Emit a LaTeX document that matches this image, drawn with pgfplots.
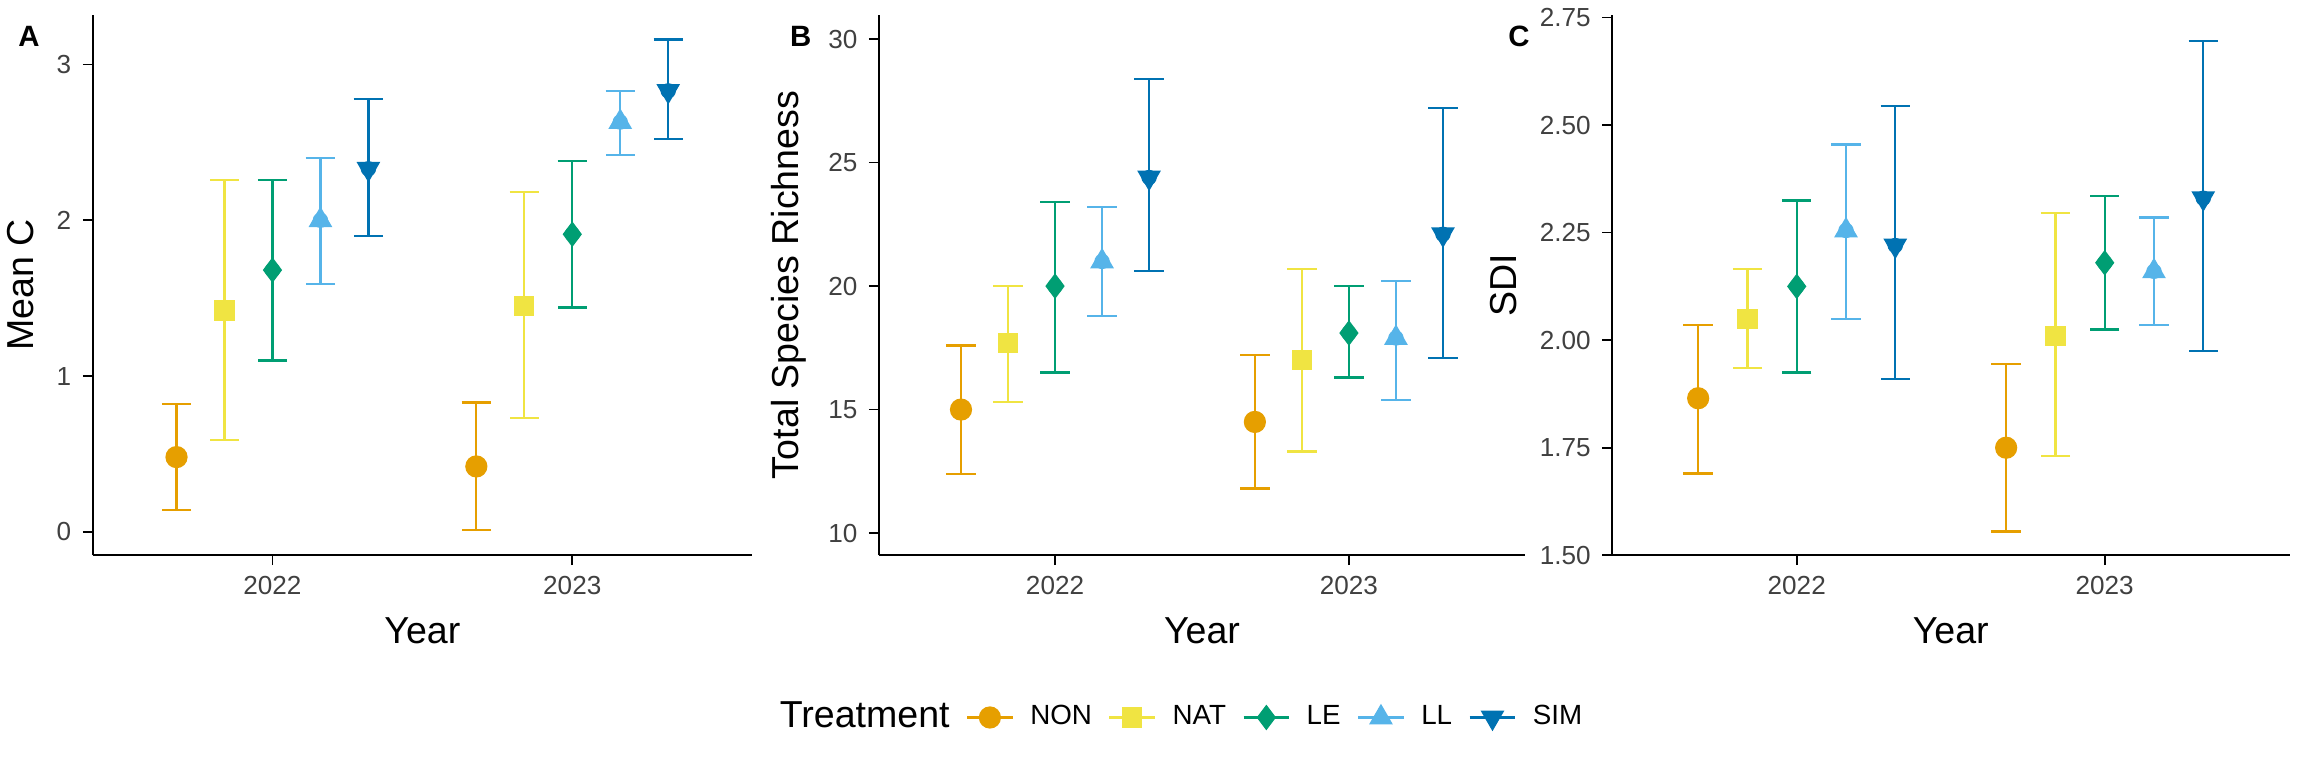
\documentclass[border=0pt]{standalone}
\usepackage{pgfplots}
\pgfplotsset{compat=1.18}
\usepackage{fontspec}
\setmainfont{Liberation Sans}
\definecolor{cNON}{HTML}{E69F00}
\definecolor{cNAT}{HTML}{F0E442}
\definecolor{cLE}{HTML}{009E73}
\definecolor{cLL}{HTML}{56B4E9}
\definecolor{cSIM}{HTML}{0072B2}
\pgfplotsset{
  myax/.style={scale only axis, height=165.6pt, axis lines*=left, axis line style={line width=0.6pt},
    xmin=0.4,xmax=2.6, xtick={1,2}, xticklabels={2022,2023},
    tick style={black,line width=0.5pt}, tickwidth=3pt, tick align=outside,
    ticklabel style={font=\fontsize{8}{9}\selectfont, text=black!75},
    /pgf/number format/assume math mode=true,
    label style={font=\fontsize{11.5}{13}\selectfont},
    xlabel={Year}, clip=false},
  eb/.style={color=#1, line width=0.7pt, forget plot, only marks, mark=none,
    error bars/.cd, y dir=both, y explicit, error bar style={line width=0.7pt,color=#1},
    error mark options={rotate=90, mark size=4.5pt, line width=0.7pt,color=#1}},
  pNON/.style={only marks, mark=*, mark size=3.2pt, color=cNON},
  pNAT/.style={only marks, mark=square*, mark size=2.9pt, color=cNAT},
  pLE/.style={only marks, mark=diamond*, mark size=3.6pt, color=cLE},
  pLL/.style={only marks, mark=triangle*, mark size=3.8pt, color=cLL},
  pSIM/.style={only marks, mark=triangle*, mark size=3.8pt, color=cSIM, mark options={rotate=180}},
}
\begin{document}
\begin{tikzpicture}[x=1pt,y=1pt]
\path[use as bounding box] (0,0) rectangle (705.6,235.35);
% Panel A
\begin{axis}[myax, at={(28.35pt,65.3pt)}, anchor=south west, width=202pt,
  ymin=-0.15, ymax=3.32, ytick={0,1,2,3}, ylabel={Mean C}]
\addplot[eb=cNON] coordinates {(0.68,0.48) += (0,0.34) -= (0,0.34) (1.68,0.42) += (0,0.41) -= (0,0.41)};
\addplot[eb=cNAT] coordinates {(0.84,1.42) += (0,0.84) -= (0,0.83) (1.84,1.45) += (0,0.73) -= (0,0.72)};
\addplot[eb=cLE] coordinates {(1.00,1.68) += (0,0.58) -= (0,0.58) (2.00,1.91) += (0,0.47) -= (0,0.47)};
\addplot[eb=cLL] coordinates {(1.16,2.00) += (0,0.40) -= (0,0.41) (2.16,2.63) += (0,0.20) -= (0,0.21)};
\addplot[eb=cSIM] coordinates {(1.32,2.33) += (0,0.45) -= (0,0.43) (2.32,2.83) += (0,0.33) -= (0,0.31)};
\addplot[pNON] coordinates {(0.68,0.48) (1.68,0.42)};
\addplot[pNAT] coordinates {(0.84,1.42) (1.84,1.45)};
\addplot[pLE] coordinates {(1.00,1.68) (2.00,1.91)};
\addplot[pLL] coordinates {(1.16,2.00) (2.16,2.63)};
\addplot[pSIM] coordinates {(1.32,2.33) (2.32,2.83)};
\node[font=\bfseries\fontsize{9}{10}\selectfont, anchor=north west] at (rel axis cs:-0.13,1.0) {A};
\end{axis}
% Panel B
\begin{axis}[myax, at={(269.1pt,65.3pt)}, anchor=south west, width=198pt,
  ymin=9.1, ymax=31.0, ytick={10,15,20,25,30}, ylabel={Total Species Richness},
  legend columns=6, legend style={at={(0.46,-0.30)}, anchor=center, draw=none,
    font=\fontsize{8.5}{10}\selectfont, column sep=3pt},
  legend image code/.code={\draw[line width=0.7pt,#1] (0pt,0pt) -- (14pt,0pt); \draw[#1] plot coordinates {(7pt,0pt)};}]
\addlegendimage{empty legend}\addlegendentry{\fontsize{11.5}{13}\selectfont Treatment}
\addplot[eb=cNON] coordinates {(0.68,15.0) += (0,2.6) -= (0,2.6) (1.68,14.5) += (0,2.7) -= (0,2.7)};
\addplot[eb=cNAT] coordinates {(0.84,17.7) += (0,2.3) -= (0,2.4) (1.84,17.0) += (0,3.7) -= (0,3.7)};
\addplot[eb=cLE] coordinates {(1.00,20.0) += (0,3.4) -= (0,3.5) (2.00,18.1) += (0,1.9) -= (0,1.8)};
\addplot[eb=cLL] coordinates {(1.16,21.0) += (0,2.2) -= (0,2.2) (2.16,17.9) += (0,2.3) -= (0,2.5)};
\addplot[eb=cSIM] coordinates {(1.32,24.4) += (0,4.0) -= (0,3.8) (2.32,22.1) += (0,5.1) -= (0,5.0)};
\addplot[pNON] coordinates {(0.68,15.0) (1.68,14.5)};\addlegendentry{NON}
\addplot[pNAT] coordinates {(0.84,17.7) (1.84,17.0)};\addlegendentry{NAT}
\addplot[pLE] coordinates {(1.00,20.0) (2.00,18.1)};\addlegendentry{LE}
\addplot[pLL] coordinates {(1.16,21.0) (2.16,17.9)};\addlegendentry{LL}
\addplot[pSIM] coordinates {(1.32,24.4) (2.32,22.1)};\addlegendentry{SIM}
\node[font=\bfseries\fontsize{9}{10}\selectfont, anchor=north west] at (rel axis cs:-0.155,1.0) {B};
\end{axis}
% Panel C
\begin{axis}[myax, at={(493.65pt,65.3pt)}, anchor=south west, width=207.5pt,
  ymin=1.5, ymax=2.757, ytick={1.5,1.75,2,2.25,2.5,2.75},
  yticklabel style={/pgf/number format/.cd, fixed, fixed zerofill, precision=2},
  ylabel={SDI}]
\addplot[eb=cNON] coordinates {(0.68,1.865) += (0,0.17) -= (0,0.175) (1.68,1.75) += (0,0.195) -= (0,0.195)};
\addplot[eb=cNAT] coordinates {(0.84,2.05) += (0,0.115) -= (0,0.115) (1.84,2.01) += (0,0.285) -= (0,0.28)};
\addplot[eb=cLE] coordinates {(1.00,2.125) += (0,0.2) -= (0,0.2) (2.00,2.18) += (0,0.155) -= (0,0.155)};
\addplot[eb=cLL] coordinates {(1.16,2.255) += (0,0.2) -= (0,0.205) (2.16,2.16) += (0,0.125) -= (0,0.125)};
\addplot[eb=cSIM] coordinates {(1.32,2.22) += (0,0.325) -= (0,0.31) (2.32,2.33) += (0,0.365) -= (0,0.355)};
\addplot[pNON] coordinates {(0.68,1.865) (1.68,1.75)};
\addplot[pNAT] coordinates {(0.84,2.05) (1.84,2.01)};
\addplot[pLE] coordinates {(1.00,2.125) (2.00,2.18)};
\addplot[pLL] coordinates {(1.16,2.255) (2.16,2.16)};
\addplot[pSIM] coordinates {(1.32,2.22) (2.32,2.33)};
\node[font=\bfseries\fontsize{9}{10}\selectfont, anchor=north west] at (rel axis cs:-0.17,1.0) {C};
\end{axis}
\end{tikzpicture}
\end{document}
